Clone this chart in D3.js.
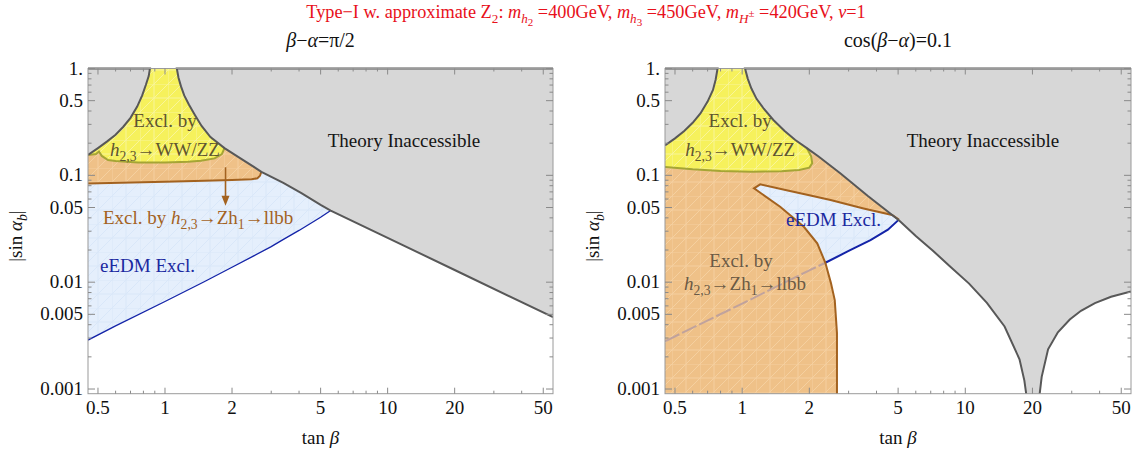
<!DOCTYPE html>
<html>
<head>
<meta charset="utf-8">
<script src="https://cdn.jsdelivr.net/npm/d3@7"></script>
<style>
  body { margin: 0; background: #fff; }
  svg { display: block; }
</style>
</head>
<body>
<script>
// axis ticks
const xTicksMajor = [0.5, 1, 2, 5, 10, 20, 50];
const xTicksMinor = [0.6, 0.7, 0.8, 0.9, 3, 4, 6, 7, 8, 9, 30, 40];
const yTicksMajor = [1, 0.5, 0.1, 0.05, 0.01, 0.005, 0.001];
const yTickLabels = ["1.", "0.5", "0.1", "0.05", "0.01", "0.005", "0.001"];
const yTicksMinor = [0.9, 0.8, 0.7, 0.6, 0.4, 0.3, 0.2, 0.09, 0.08, 0.07, 0.06, 0.04, 0.03, 0.02,
  0.009, 0.008, 0.007, 0.006, 0.004, 0.003, 0.002];
const tanDomain = [0.451, 55.3];
const sinDomain = [0.000904, 1];

// left panel: beta-alpha = pi/2  ([tan beta, |sin alpha_b|])
const leftGrayA = [[0.451, 0.155], [0.5, 0.18], [0.55, 0.208], [0.6, 0.24], [0.65, 0.285], [0.7, 0.345],
  [0.75, 0.44], [0.79, 0.56], [0.82, 0.7], [0.845, 0.85], [0.856, 1]];
const leftGrayB = [[1.13, 1], [1.15, 0.82], [1.18, 0.68], [1.22, 0.56], [1.28, 0.46], [1.36, 0.37], [1.46, 0.29],
  [1.6, 0.228], [1.85, 0.18], [2.13, 0.149], [2.71, 0.108], [3.4, 0.085], [4.1, 0.068], [5.0, 0.053],
  [5.55, 0.0468], [10, 0.026], [20, 0.013], [55.3, 0.0047]];
const leftWWLower = [[1.85, 0.18], [1.80, 0.158], [1.67, 0.144], [1.45, 0.137], [1.27, 0.134], [1.0, 0.132],
  [0.757, 0.132], [0.6, 0.136], [0.555, 0.139], [0.52, 0.152], [0.505, 0.167], [0.49, 0.158], [0.451, 0.155]];
const leftZhLower = [[0.451, 0.084], [1, 0.087], [1.5, 0.089], [2, 0.0905], [2.45, 0.0918], [2.6, 0.094], [2.67, 0.099], [2.71, 0.108]];
const leftEdm = [[0.451, 0.00287], [0.6, 0.0039], [1, 0.0066], [1.5, 0.0101], [2, 0.0138], [3, 0.0215],
  [3.33, 0.0245], [4, 0.0305], [5, 0.0405], [5.55, 0.0468]];
const leftArrow = [[1.87, 0.119], [1.87, 0.052]];

// right panel: cos(beta-alpha) = 0.1
const rightGrayA = [[0.451, 0.19], [0.5, 0.222], [0.55, 0.26], [0.6, 0.31], [0.65, 0.38], [0.7, 0.49],
  [0.74, 0.63], [0.76, 0.78], [0.776, 1]];
const rightGrayB = [[1.03, 1], [1.06, 0.8], [1.1, 0.65], [1.16, 0.52], [1.25, 0.42], [1.38, 0.33], [1.55, 0.26],
  [1.73, 0.214], [1.95, 0.18], [2.2, 0.15], [2.76, 0.104], [3.66, 0.064], [5.04, 0.038], [6, 0.027], [7.14, 0.0198],
  [8.5, 0.0142], [10.4, 0.0097], [12.5, 0.0064], [15, 0.00385], [17.5, 0.0019], [18.4, 0.0012], [18.9, 0.0008]];
const rightGrayC = [[21.4, 0.0008], [22, 0.0013], [23.5, 0.00235], [26, 0.0034], [29.4, 0.00447], [33, 0.0054],
  [38.1, 0.00637], [45, 0.0073], [55.3, 0.0082]];
const rightWWLower = [[1.95, 0.18], [2.04, 0.15], [2.06, 0.13], [2.0, 0.118], [1.8, 0.112], [1.5, 0.109],
  [1.1, 0.108], [0.8, 0.11], [0.6, 0.114], [0.451, 0.12]];
const rightZhEdge = [[2.66, 0.0008], [2.66, 0.00334], [2.6, 0.0068], [2.5, 0.0098], [2.36, 0.0152], [2.17, 0.0231],
  [1.89, 0.033], [1.48, 0.0508], [1.13, 0.0756], [1.205, 0.0824], [1.6, 0.072], [2.0, 0.065], [2.49, 0.0587],
  [3.5, 0.049], [4.7, 0.0425], [5.04, 0.0385]];
const rightEdmHidden = [[0.451, 0.0028], [1, 0.0063], [1.5, 0.0096], [2.0, 0.0129], [2.36, 0.0152]];
const rightEdm = [[2.36, 0.0152], [3.0, 0.0196], [3.76, 0.0248], [4.5, 0.031], [5.04, 0.0385]];

const W = 1139, H = 453;
const plotTop = 68.5, plotBottom = 393.7;
const serif = "'Liberation Serif', 'Times New Roman', serif";

const svg = d3.select("body").append("svg").attr("width", W).attr("height", H)
  .attr("font-family", serif);
const y = d3.scaleLog().domain(sinDomain).range([plotBottom, plotTop]);

const defs = svg.append("defs");
function mesh(id, base, lineCol) {
  const p = defs.append("pattern").attr("id", id).attr("patternUnits", "userSpaceOnUse")
    .attr("width", 28).attr("height", 28);
  p.append("rect").attr("width", 28).attr("height", 28).attr("fill", base);
  p.append("path").attr("d", "M0,0H28M0,14H28M0,0V28M14,0V28M0,28L28,0M0,14L14,0M14,28L28,14")
    .attr("stroke", lineCol).attr("stroke-width", 1).attr("fill", "none");
}
mesh("mYel", "#f6f15c", "#f9f59a");
mesh("mOra", "#efc188", "#f5d0a0");
mesh("mBlu", "#e5effc", "#d9e7f9");

// rich text: parts {t, i (italic), lv: 0 base, 1 sub, 2 subsub, -1 sup-on-sub}
function rich(g, x, yy, parts, size, color, anchor) {
  const t = g.append("text").attr("x", x).attr("y", yy).attr("font-size", size)
    .attr("fill", color).attr("text-anchor", anchor || "start");
  const shift = { 0: 0, 1: 0.28, 2: 0.45, "-1": -0.05 };
  const scale = { 0: 1, 1: 0.72, 2: 0.6, "-1": 0.6 };
  let cur = 0;
  parts.forEach(p => {
    const lv = p.lv || 0;
    const target = shift[lv] * size;
    t.append("tspan").attr("dy", (target - cur).toFixed(2))
      .attr("font-size", size * scale[lv])
      .attr("font-style", p.i ? "italic" : "normal")
      .text(p.t);
    cur = target;
  });
  return t;
}

// title
rich(svg, 586, 18, [
  { t: "Type\u2212I w. approximate Z" }, { t: "2", lv: 1 }, { t: ": " },
  { t: "m", i: 1 }, { t: "h", i: 1, lv: 1 }, { t: "2", lv: 2 }, { t: " =400GeV, " },
  { t: "m", i: 1 }, { t: "h", i: 1, lv: 1 }, { t: "3", lv: 2 }, { t: " =450GeV, " },
  { t: "m", i: 1 }, { t: "H", i: 1, lv: 1 }, { t: "\u00b1", lv: -1 }, { t: " =420GeV, " },
  { t: "\u03bd", i: 1 }, { t: "=1" }
], 18.3, "#e8101a", "middle");

const panels = [
  {
    x0: 88, x1: 553, id: "L",
    subtitle: [{ t: "\u03b2", i: 1 }, { t: "\u2212" }, { t: "\u03b1", i: 1 }, { t: "=\u03c0/2" }],
    grayA: leftGrayA, grayB: leftGrayB, ww: leftWWLower, zh: leftZhLower, zhFillTop: 2.71,
    edm: leftEdm, edmHidden: null, edmW: 1.3
  },
  {
    x0: 665, x1: 1131, id: "R",
    subtitle: [{ t: "cos(" }, { t: "\u03b2", i: 1 }, { t: "\u2212" }, { t: "\u03b1", i: 1 }, { t: ")=0.1" }],
    grayA: rightGrayA, grayB: rightGrayB.concat(rightGrayC), ww: rightWWLower, zh: rightZhEdge, zhFillTop: 5.04,
    edm: rightEdm, edmHidden: rightEdmHidden, edmW: 2
  }
];

panels.forEach(P => {
  const x = d3.scaleLog().domain(tanDomain).range([P.x0, P.x1]);
  const line = d3.line().x(d => x(d[0])).y(d => y(d[1]));
  const xmin = tanDomain[0], xmax = tanDomain[1];

  defs.append("clipPath").attr("id", "clip" + P.id).append("rect")
    .attr("x", P.x0).attr("y", plotTop - 1.5).attr("width", P.x1 - P.x0).attr("height", plotBottom - plotTop + 1.5);
  const g = svg.append("g").attr("clip-path", `url(#clip${P.id})`);

  // eEDM exclusion (blue)
  const edmAll = (P.edmHidden ? P.edmHidden.concat(P.edm.slice(1)) : P.edm);
  const edmEnd = edmAll[edmAll.length - 1][0];
  g.append("path").attr("d", line(edmAll.concat([[edmEnd, 1], [xmin, 1]])) + "Z").attr("fill", "url(#mBlu)");

  // Zh1 -> llbb exclusion (orange)
  let zhPoly;
  if (P.id === "L") zhPoly = P.zh.concat([[P.zhFillTop, 1], [xmin, 1]]);
  else zhPoly = [[xmin, sinDomain[0]]].concat(P.zh, [[P.zhFillTop, 1], [xmin, 1]]);
  g.append("path").attr("d", line(zhPoly) + "Z").attr("fill", "url(#mOra)");

  // WW/ZZ exclusion (yellow)
  const wwEnd = P.ww[0][0];
  const yelPoly = P.grayA.concat(P.grayB.filter(d => d[0] <= wwEnd), P.ww);
  g.append("path").attr("d", line(yelPoly) + "Z").attr("fill", "url(#mYel)");

  // theory inaccessible (gray)
  g.append("path").attr("d", line(P.grayA.concat([[xmin, 1]])) + "Z").attr("fill", "#d7d7d7");
  g.append("path").attr("d", line(P.grayB.concat([[xmax, 1]])) + "Z").attr("fill", "#d7d7d7");

  // boundary lines
  if (P.edmHidden) {
    g.append("path").attr("d", line(P.edmHidden)).attr("fill", "none")
      .attr("stroke", "#b49aa0").attr("stroke-opacity", 0.8).attr("stroke-width", 2).attr("stroke-dasharray", "16,3");
  }
  g.append("path").attr("d", line(P.edm)).attr("fill", "none").attr("stroke", "#1424a8").attr("stroke-width", P.edmW);
  g.append("path").attr("d", line(P.zh)).attr("fill", "none").attr("stroke", "#a3621f").attr("stroke-width", 2);
  g.append("path").attr("d", line(P.ww)).attr("fill", "none").attr("stroke", "#a5a535").attr("stroke-width", 2);
  g.append("path").attr("d", line(P.grayA.concat([[xmin, 1]]))).attr("fill", "none").attr("stroke", "#585858").attr("stroke-width", 2);
  g.append("path").attr("d", line([[xmax, 1]].concat(P.grayB))).attr("fill", "none").attr("stroke", "#585858").attr("stroke-width", 2);

  // frame
  svg.append("rect").attr("x", P.x0).attr("y", plotTop).attr("width", P.x1 - P.x0).attr("height", plotBottom - plotTop)
    .attr("fill", "none").attr("stroke", "#9a9a9a").attr("stroke-width", 1);

  // ticks
  const tk = svg.append("g").attr("stroke", "#8a8a8a").attr("stroke-width", 1);
  xTicksMajor.forEach(v => {
    tk.append("line").attr("x1", x(v)).attr("x2", x(v)).attr("y1", plotBottom).attr("y2", plotBottom - 6);
    tk.append("line").attr("x1", x(v)).attr("x2", x(v)).attr("y1", plotTop).attr("y2", plotTop + 6);
  });
  xTicksMinor.forEach(v => {
    tk.append("line").attr("x1", x(v)).attr("x2", x(v)).attr("y1", plotBottom).attr("y2", plotBottom - 3);
    tk.append("line").attr("x1", x(v)).attr("x2", x(v)).attr("y1", plotTop).attr("y2", plotTop + 3);
  });
  yTicksMajor.forEach(v => {
    tk.append("line").attr("x1", P.x0).attr("x2", P.x0 + 7).attr("y1", y(v)).attr("y2", y(v));
    tk.append("line").attr("x1", P.x1).attr("x2", P.x1 - 7).attr("y1", y(v)).attr("y2", y(v));
  });
  yTicksMinor.forEach(v => {
    tk.append("line").attr("x1", P.x0).attr("x2", P.x0 + 3.5).attr("y1", y(v)).attr("y2", y(v));
    tk.append("line").attr("x1", P.x1).attr("x2", P.x1 - 3.5).attr("y1", y(v)).attr("y2", y(v));
  });

  // tick labels
  const lab = svg.append("g").attr("font-size", 19).attr("fill", "#111");
  xTicksMajor.forEach(v => {
    lab.append("text").attr("x", x(v)).attr("y", plotBottom + 20).attr("text-anchor", "middle").text(String(v));
  });
  yTicksMajor.forEach((v, i) => {
    lab.append("text").attr("x", P.x0 - 5).attr("y", y(v) + 6).attr("text-anchor", "end").text(yTickLabels[i]);
  });

  // axis titles
  const cx = (P.x0 + P.x1) / 2;
  rich(svg, cx, 444, [{ t: "tan " }, { t: "\u03b2", i: 1 }], 19, "#111", "middle");
  rich(svg, cx, 47, P.subtitle, 20, "#111", "middle");
  const yl = svg.append("g").attr("transform", `translate(${P.x0 - 66},236) rotate(-90)`);
  rich(yl, 0, 0, [{ t: "|sin " }, { t: "\u03b1", i: 1 }, { t: "b", i: 1, lv: 1 }, { t: "|" }], 19, "#111", "middle");

  // region labels
  const txt = "#5e5530";
  if (P.id === "L") {
    rich(svg, x(1.0), 127, [{ t: "Excl. by" }], 19, txt, "middle");
    rich(svg, x(1.0), 155.5, [{ t: "h", i: 1 }, { t: "2,3", lv: 1 }, { t: "\u2192WW/ZZ" }], 19, txt, "middle");
    rich(svg, 404, 147, [{ t: "Theory Inaccessible" }], 19, "#151515", "middle");
    rich(svg, 103, 223.5, [{ t: "Excl. by " }, { t: "h", i: 1 }, { t: "2,3", lv: 1 }, { t: "\u2192Zh" }, { t: "1", lv: 1 }, { t: "\u2192llbb" }], 19, "#a3621f", "start");
    rich(svg, 100, 272, [{ t: "eEDM Excl." }], 19, "#1a28a0", "start");
    const ax = x(leftArrow[0][0]), ay0 = y(leftArrow[0][1]), ay1 = y(leftArrow[1][1]);
    svg.append("line").attr("x1", ax).attr("x2", ax).attr("y1", ay0).attr("y2", ay1 - 8)
      .attr("stroke", "#a3621f").attr("stroke-width", 1.6);
    svg.append("path").attr("d", `M${ax - 4},${ay1 - 10}L${ax + 4},${ay1 - 10}L${ax},${ay1}Z`).attr("fill", "#a3621f");
  } else {
    rich(svg, x(0.98), 127, [{ t: "Excl. by" }], 19, txt, "middle");
    rich(svg, x(0.98), 155.5, [{ t: "h", i: 1 }, { t: "2,3", lv: 1 }, { t: "\u2192WW/ZZ" }], 19, txt, "middle");
    rich(svg, 983, 147, [{ t: "Theory Inaccessible" }], 19, "#151515", "middle");
    rich(svg, 786, 226, [{ t: "eEDM Excl." }], 19, "#1a28a0", "start");
    rich(svg, 741, 267, [{ t: "Excl. by" }], 19, "#6b5a45", "middle");
    rich(svg, 745, 290, [{ t: "h", i: 1 }, { t: "2,3", lv: 1 }, { t: "\u2192Zh" }, { t: "1", lv: 1 }, { t: "\u2192llbb" }], 19, "#6b5a45", "middle");
  }
});
</script>
</body>
</html>
